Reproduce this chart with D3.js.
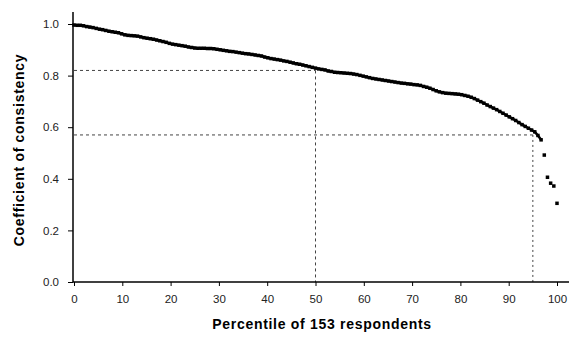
<!DOCTYPE html>
<html>
<head>
<meta charset="utf-8">
<script src="https://cdnjs.cloudflare.com/ajax/libs/d3/7.8.5/d3.min.js"></script>
<style>
  body { margin: 0; background: #fff; }
  svg { display: block; font-family: Arial, "Liberation Sans", sans-serif; }
</style>
</head>
<body>
<svg id="chart" width="579" height="344"></svg>
<script>
// coefficient of consistency for each of the 153 respondents, sorted high to low
const consistency = [
  0.996, 0.995, 0.995, 0.993, 0.990, 0.988, 0.986, 0.983, 0.980, 0.978,
  0.975, 0.972, 0.970, 0.968, 0.966, 0.962, 0.958, 0.956, 0.955, 0.954,
  0.953, 0.950, 0.947, 0.945, 0.943, 0.941, 0.938, 0.935, 0.932, 0.929,
  0.925, 0.922, 0.920, 0.918, 0.916, 0.914, 0.911, 0.909, 0.907, 0.906,
  0.906, 0.906, 0.905, 0.905, 0.904, 0.902, 0.900, 0.898, 0.896, 0.894,
  0.893, 0.891, 0.889, 0.887, 0.885, 0.884, 0.882, 0.880, 0.878, 0.876,
  0.872, 0.869, 0.866, 0.864, 0.862, 0.860, 0.857, 0.855, 0.852, 0.849,
  0.846, 0.844, 0.841, 0.838, 0.835, 0.832, 0.829, 0.826, 0.824, 0.822,
  0.818, 0.816, 0.813, 0.812, 0.811, 0.810, 0.809, 0.808, 0.806, 0.804,
  0.801, 0.798, 0.795, 0.792, 0.789, 0.787, 0.785, 0.783, 0.781, 0.779,
  0.777, 0.775, 0.773, 0.771, 0.770, 0.768, 0.767, 0.765, 0.764, 0.762,
  0.758, 0.755, 0.751, 0.746, 0.741, 0.737, 0.734, 0.732, 0.731, 0.730,
  0.729, 0.728, 0.726, 0.723, 0.720, 0.716, 0.711, 0.705, 0.699, 0.693,
  0.686, 0.680, 0.674, 0.668, 0.661, 0.654, 0.647, 0.640, 0.633, 0.626,
  0.618, 0.610, 0.603, 0.596, 0.589, 0.582, 0.568, 0.551,
  0.492, 0.406, 0.383, 0.372, 0.305
];
// the last few respondents are drawn as loose points, not joined to the line
const joinedCount = 148;

// reference guides: [percentile, coefficient]
const guides = [[50, 0.82], [95, 0.57]];

const xTicks = [0, 10, 20, 30, 40, 50, 60, 70, 80, 90, 100];
const yTicks = [0, 0.2, 0.4, 0.6, 0.8, 1.0];
const xTitle = 'Percentile of 153 respondents';
const yTitle = 'Coefficient of consistency';

const svg = d3.select('#chart');

const x = d3.scaleLinear().domain([0, 100]).range([74, 557]);
const y = d3.scaleLinear().domain([0, 1]).range([282, 24]);

const n = consistency.length;
const points = consistency.map((v, i) => ({ p: i / (n - 1) * 100, v: v }));

// guide lines
guides.forEach(function(g, k) {
  svg.append('line')
    .attr('x1', x(0)).attr('x2', x(g[0]))
    .attr('y1', y(g[1])).attr('y2', y(g[1]))
    .attr('stroke', '#444').attr('stroke-width', 1)
    .attr('stroke-dasharray', '3,3');
  svg.append('line')
    .attr('x1', x(g[0])).attr('x2', x(g[0]))
    .attr('y1', y(g[1])).attr('y2', y(0))
    .attr('stroke', '#444').attr('stroke-width', 1)
    .attr('stroke-dasharray', k === 0 ? '3,3' : '2,3');
});

// axes
const yAxis = d3.axisLeft(y).tickValues(yTicks).tickSize(5)
  .tickFormat(d3.format('.1f'));
const yG = svg.append('g').attr('transform', 'translate(73,0)').call(yAxis);
yG.select('.domain').remove();
yG.append('line').attr('x1', 0).attr('x2', 0).attr('y1', 12).attr('y2', 282)
  .attr('stroke', '#000').attr('stroke-width', 1.5);

const xAxis = d3.axisBottom(x).tickValues(xTicks).tickSize(4).tickPadding(9);
const xG = svg.append('g').attr('transform', 'translate(0,282)').call(xAxis);
xG.select('.domain').remove();
xG.append('line').attr('x1', 73).attr('x2', 569).attr('y1', 0).attr('y2', 0)
  .attr('stroke', '#000').attr('stroke-width', 1.5);

svg.selectAll('.tick text')
  .attr('font-size', 11.5)
  .attr('font-family', 'Arial, "Liberation Sans", sans-serif')
  .attr('fill', '#222');
yG.selectAll('.tick text').attr('x', -14);

// the curve
const line = d3.line().x(d => x(d.p)).y(d => y(d.v));
svg.append('path')
  .datum(points.slice(0, joinedCount))
  .attr('fill', 'none')
  .attr('stroke', '#000')
  .attr('stroke-width', 2.5)
  .attr('d', line);

svg.append('g').selectAll('rect')
  .data(points)
  .join('rect')
  .attr('x', d => x(d.p) - 1.75)
  .attr('y', d => y(d.v) - 1.75)
  .attr('width', 3.5)
  .attr('height', 3.5)
  .attr('fill', '#000');

// titles
svg.append('text')
  .attr('x', 322).attr('y', 329)
  .attr('text-anchor', 'middle')
  .attr('font-size', 14).attr('font-weight', 'bold')
  .attr('letter-spacing', 0.7)
  .text(xTitle);

svg.append('text')
  .attr('transform', 'translate(24,150) rotate(-90)')
  .attr('text-anchor', 'middle')
  .attr('font-size', 14).attr('font-weight', 'bold')
  .attr('letter-spacing', 0.7)
  .text(yTitle);
</script>
</body>
</html>
